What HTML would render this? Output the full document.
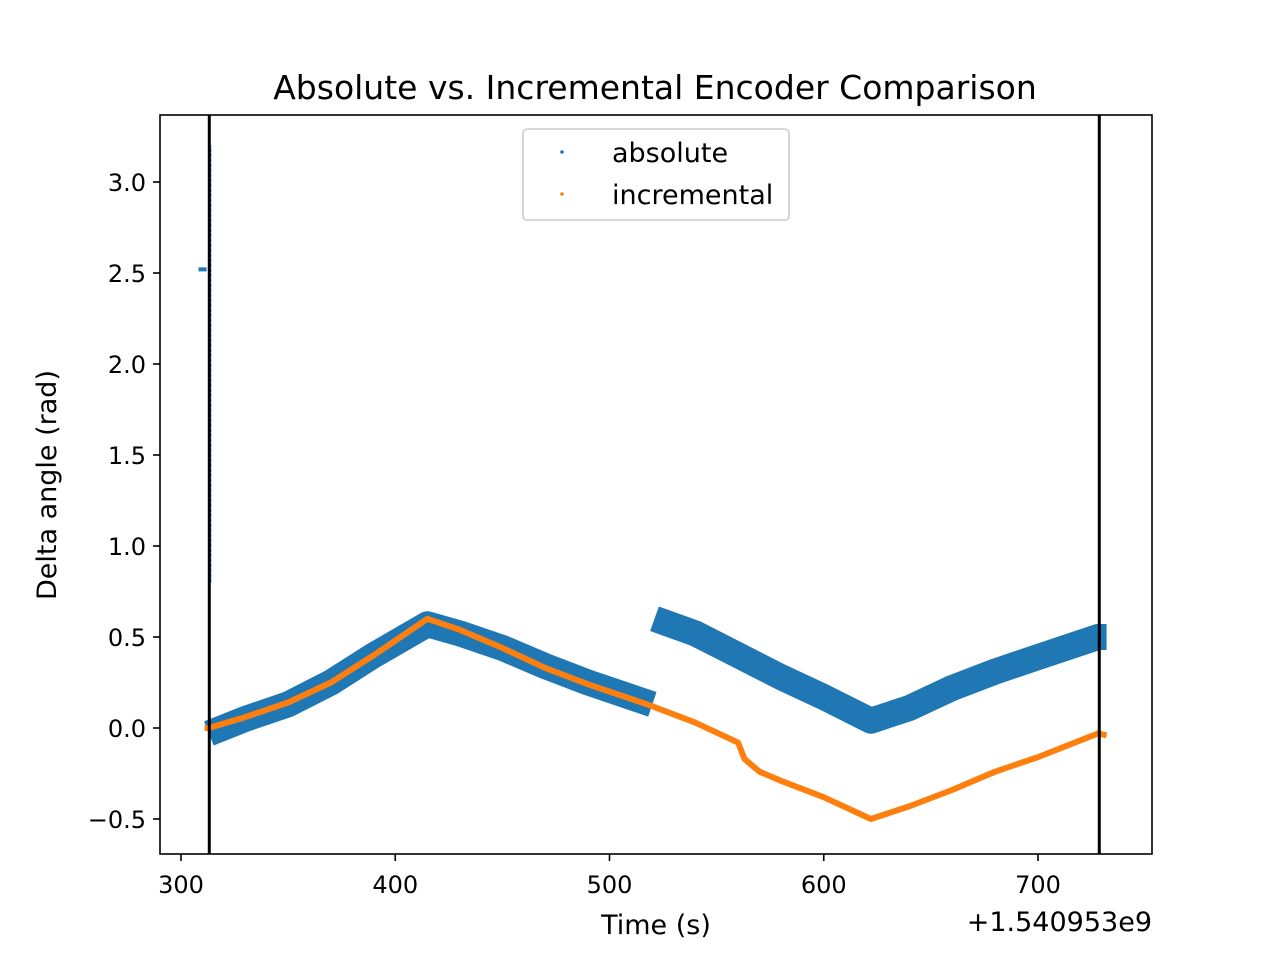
<!DOCTYPE html>
<html><head><meta charset="utf-8"><style>
html,body{margin:0;padding:0;background:#fff;}
svg text{font-family:"DejaVu Sans","Liberation Sans",sans-serif;fill:#000;}
</style></head><body>
<svg id="chart" width="1280" height="960" xmlns="http://www.w3.org/2000/svg">
<rect width="1280" height="960" fill="#fff"/>
<text x="655" y="99" font-size="33" text-anchor="middle">Absolute vs. Incremental Encoder Comparison</text>
<g id="plot"></g>
<rect x="160" y="115" width="992" height="739" fill="none" stroke="#000" stroke-width="1.6"/>
<g id="axes"></g>
<text x="656" y="934" font-size="27" text-anchor="middle">Time (s)</text>
<text x="1152" y="931" font-size="27" text-anchor="end">+1.540953e9</text>
<text transform="translate(56,485) rotate(-90)" font-size="27" text-anchor="middle">Delta angle (rad)</text>
<g>
<rect x="523" y="129" width="266" height="91" rx="4" fill="#fff" fill-opacity="0.8" stroke="#ccc" stroke-width="1.6"/>
<circle cx="562" cy="152" r="1.8" fill="#1f77b4"/>
<text x="612" y="162" font-size="27">absolute</text>
<circle cx="562" cy="194" r="1.8" fill="#ff7f0e"/>
<text x="612" y="204" font-size="27">incremental</text>
</g>
</svg>
<script>
const xTicks=[300,400,500,600,700];
const yTicks=[-0.5,0.0,0.5,1.0,1.5,2.0,2.5,3.0];
const yTickLabels=["\u22120.5","0.0","0.5","1.0","1.5","2.0","2.5","3.0"];
const absTimes=[313,330,350,370,390,415,430,450,470,490,520,521,540,560,580,600,622,640,660,680,700,728,732];
const absValues=[-0.03,0.05,0.13,0.25,0.40,0.57,0.52,0.44,0.34,0.25,0.13,0.60,0.52,0.40,0.28,0.17,0.04,0.11,0.22,0.31,0.39,0.50,0.50];
const incTimes=[311,313,330,350,370,390,415,430,450,470,490,520,522,540,560,563,570,580,600,622,640,660,680,700,728,732];
const incValues=[0.0,0.0,0.06,0.14,0.25,0.40,0.60,0.54,0.44,0.33,0.24,0.12,0.11,0.03,-0.08,-0.17,-0.24,-0.29,-0.38,-0.50,-0.43,-0.34,-0.24,-0.16,-0.03,-0.04];
const spikeTime=[313.6];
const spikeRange=[0.8,3.2];
const vlines=[313.2,728.6];
const outlier=[311,2.52];
const NS="http://www.w3.org/2000/svg";
function X(t){return 181+(t-300)*2.1425;}
function Y(v){return 728-v*182;}
const plot=document.getElementById('plot'),axes=document.getElementById('axes');
function mk(tag,attrs,parent){const e=document.createElementNS(NS,tag);for(const k in attrs)e.setAttribute(k,attrs[k]);parent.appendChild(e);return e;}
let pa=absTimes.slice(0,11).map((t,i)=>X(t)+','+Y(absValues[i])).join(' ');
let b1=mk('polyline',{points:pa,fill:'none',stroke:'#1f77b4','stroke-width':26,'stroke-linejoin':'round'},plot);


let pb=absTimes.slice(11).map((t,i)=>X(t)+','+Y(absValues[i+11])).join(' ');
let b2=mk('polyline',{points:pb,fill:'none',stroke:'#1f77b4','stroke-width':26,'stroke-linejoin':'round'},plot);


let sp=mk('line',{x1:X(spikeTime[0]),x2:X(spikeTime[0]),y1:Y(spikeRange[0]),y2:Y(spikeRange[1]),stroke:'#1f77b4','stroke-width':2.5,'stroke-dasharray':'4 1'},plot);


let od=mk('rect',{x:X(outlier[0])-6,y:Y(outlier[1])-2,width:8,height:4,fill:'#1f77b4'},plot);


let pi=incTimes.map((t,i)=>X(t)+','+Y(incValues[i])).join(' ');
let il=mk('polyline',{points:pi,fill:'none',stroke:'#ff7f0e','stroke-width':6,'stroke-linejoin':'round'},plot);


vlines.forEach((t,i)=>{
 const l=mk('line',{x1:X(t),x2:X(t),y1:115,y2:854,stroke:'#000','stroke-width':3},plot);
 
 
});
xTicks.forEach(t=>{
 const l=mk('line',{x1:X(t),x2:X(t),y1:854,y2:861,stroke:'#000','stroke-width':1.6},axes);
 
 
 const tx=mk('text',{x:X(t),y:893,'font-size':24,'text-anchor':'middle'},axes);
 tx.textContent=t;
 
 
});
yTicks.forEach((v,i)=>{
 const l=mk('line',{x1:153,x2:160,y1:Y(v),y2:Y(v),stroke:'#000','stroke-width':1.6},axes);
 
 
 const tx=mk('text',{x:146,y:Y(v)+9,'font-size':24,'text-anchor':'end'},axes);
 tx.textContent=yTickLabels[i];
 
 
});
</script>
</body></html>
